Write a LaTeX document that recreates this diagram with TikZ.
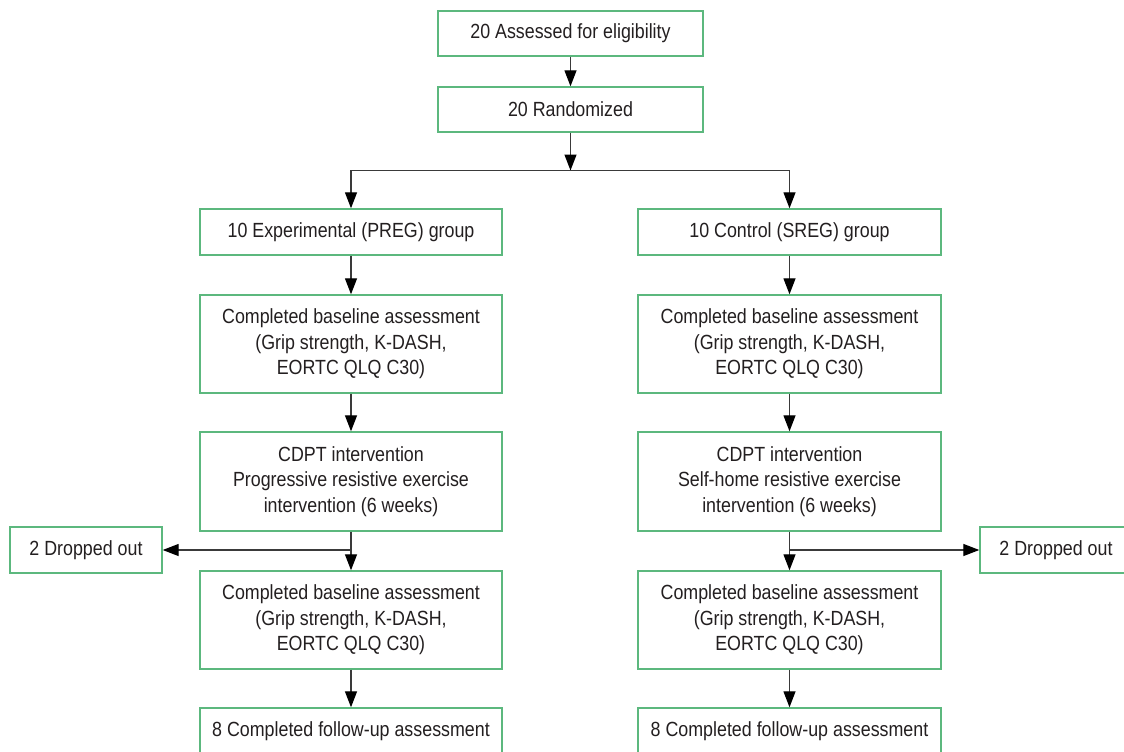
\documentclass[tikz,border=0pt]{standalone}
\usepackage{fontspec}
\setmainfont{Liberation Sans}[FakeStretch=0.87]
\usetikzlibrary{arrows.meta}
\definecolor{boxgreen}{HTML}{5CB87E}
\definecolor{txt}{HTML}{231F20}
\definecolor{linegray}{HTML}{3A3A3A}
\tikzset{
  box/.style={draw=boxgreen, line width=1.4pt, fill=white, text=txt, align=center,
    inner sep=0pt, font=\fontsize{20.5}{25.5}\selectfont},
  arr/.style={draw=linegray, line width=1.3pt, -{Triangle[length=16pt,width=12pt,black]}},
  ln/.style={draw=linegray, line width=1.3pt}
}
\begin{document}
\begin{tikzpicture}[x=1pt,y=-1pt]
\useasboundingbox (0,0) rectangle (1124,752);
\clip (0,0) rectangle (1124,752);
\node[box, minimum width=265pt, minimum height=45pt] (a1) at (570.5,33.5) {20 Assessed for eligibility};
\node[box, minimum width=265pt, minimum height=45pt] (a2) at (570.5,109.5) {20 Randomized};
\coordinate (split) at (570.5,170.5);
\node[box, minimum width=302pt, minimum height=46pt] (exp) at (351,232) {10 Experimental (PREG) group};
\node[box, minimum width=303pt, minimum height=46pt] (ctl) at (789.5,232) {10 Control (SREG) group};
\node[box, minimum width=302pt, minimum height=98pt] (lb1) at (351,344) {Completed baseline assessment\\(Grip strength, K-DASH,\\EORTC QLQ C30)};
\node[box, minimum width=303pt, minimum height=98pt] (rb1) at (789.5,344) {Completed baseline assessment\\(Grip strength, K-DASH,\\EORTC QLQ C30)};
\node[box, minimum width=302pt, minimum height=99pt] (lc) at (351,481.5) {CDPT intervention\\Progressive resistive exercise\\intervention (6 weeks)};
\node[box, minimum width=303pt, minimum height=99pt] (rc) at (789.5,481.5) {CDPT intervention\\Self-home resistive exercise\\intervention (6 weeks)};
\node[box, minimum width=302pt, minimum height=98pt] (lb2) at (351,620) {Completed baseline assessment\\(Grip strength, K-DASH,\\EORTC QLQ C30)};
\node[box, minimum width=303pt, minimum height=98pt] (rb2) at (789.5,620) {Completed baseline assessment\\(Grip strength, K-DASH,\\EORTC QLQ C30)};
\node[box, minimum width=302pt, minimum height=46pt] (lf) at (351,731) {8 Completed follow-up assessment};
\node[box, minimum width=303pt, minimum height=46pt] (rf) at (789.5,731) {8 Completed follow-up assessment};
\node[box, minimum width=152pt, minimum height=46pt] (ld) at (86,550) {2 Dropped out};
\node[box, minimum width=152pt, minimum height=46pt] (rd) at (1056,550) {2 Dropped out};
\coordinate (lj) at (351,550);
\coordinate (rj) at (789.5,550);
\draw[arr] (a1.south) -- (a2.north);
\draw[arr] (a2.south) -- (split);
\draw[arr] (split) -| (exp.north);
\draw[arr] (split) -| (ctl.north);
\draw[arr] (exp.south) -- (lb1.north);
\draw[arr] (ctl.south) -- (rb1.north);
\draw[arr] (lb1.south) -- (lc.north);
\draw[arr] (rb1.south) -- (rc.north);
\draw[arr] (lc.south) -- (lb2.north);
\draw[arr] (rc.south) -- (rb2.north);
\draw[arr] (lb2.south) -- (lf.north);
\draw[arr] (rb2.south) -- (rf.north);
\draw[arr] (lj) -- (ld.east);
\draw[arr] (rj) -- (rd.west);
\end{tikzpicture}
\end{document}
